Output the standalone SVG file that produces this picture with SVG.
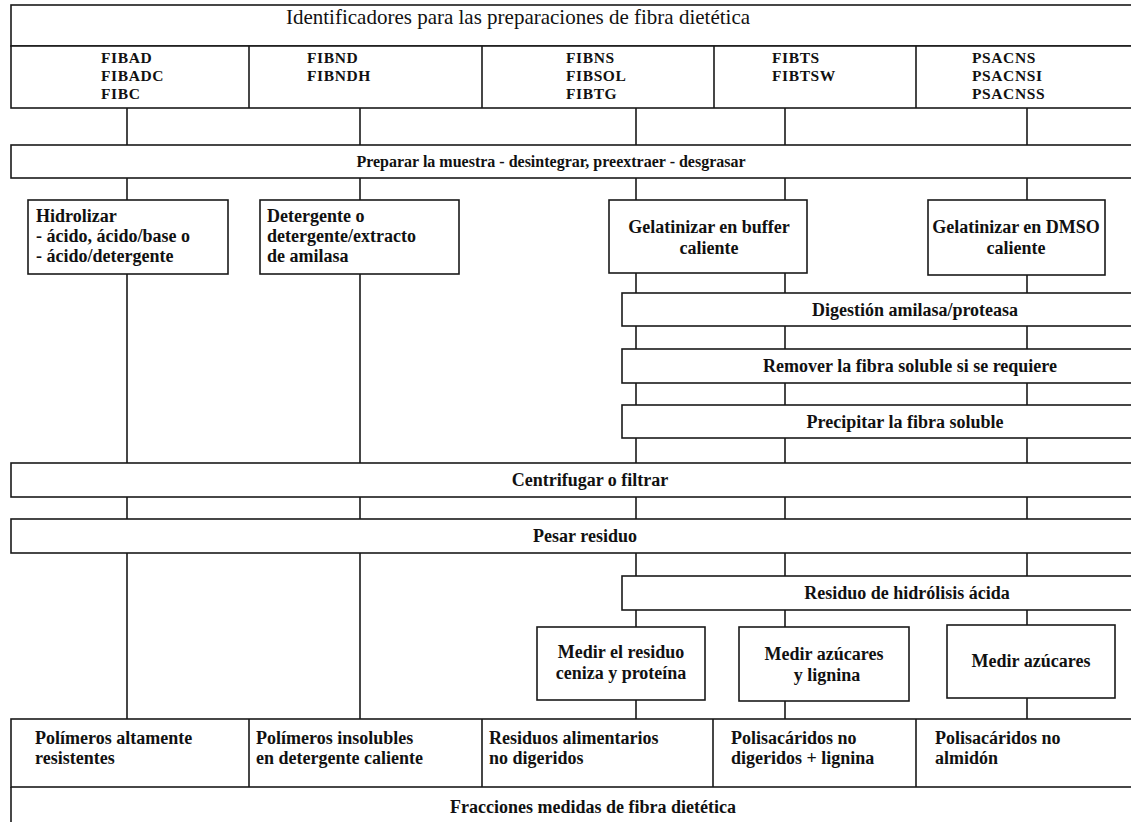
<svg xmlns="http://www.w3.org/2000/svg" width="1131" height="822" viewBox="0 0 1131 822">
<style>
.bx{fill:#fff;stroke:#1a1a1a;stroke-width:1.6}
.ln{stroke:#1a1a1a;stroke-width:1.6;fill:none}
.t{font-family:"Liberation Serif","Times New Roman",serif;font-size:18px;font-weight:bold;fill:#111}
.s{font-size:16px}
.id{font-size:15.5px;letter-spacing:0.6px}
.tt{font-family:"Liberation Serif","Times New Roman",serif;font-size:21px;fill:#111}
.c{text-anchor:middle}
</style>
<rect width="1131" height="822" fill="#fff"/>
<g id="connectors">
<path class="ln" d="M127 108V145M360 108V145M636 108V145M785 108V145M1027 108V145"/>
<path class="ln" d="M127 178V200M360 178V200M636 178V200M785 178V200M1027 178V200"/>
<path class="ln" d="M127 274V463M360 274V463M636 273V293M785 273V293M1027 275V293"/>
<path class="ln" d="M636 326V349M785 326V349M1027 326V349"/>
<path class="ln" d="M636 383V405M785 383V405M1027 383V405"/>
<path class="ln" d="M636 438V463M785 438V463M1027 438V463"/>
<path class="ln" d="M127 497V519M360 497V519M636 497V519M785 497V519M1027 497V519"/>
<path class="ln" d="M127 553V719M360 553V719M636 553V576M785 553V576M1027 553V576"/>
<path class="ln" d="M636 610V627M785 610V627M1027 610V625"/>
<path class="ln" d="M636 700V719M785 701V719M1027 698V719"/>
</g>
<g id="title"><rect class="bx" x="11" y="5" width="1135" height="41"/><text class="tt c" x="518" y="24">Identificadores para las preparaciones de fibra dietética</text></g>
<g id="ids">
<rect class="bx" x="11" y="46" width="1135" height="62"/>
<path class="ln" d="M249 46V108M482 46V108M714 46V108M916 46V108"/>
<text class="t id" x="101" y="63">FIBAD<tspan x="101" dy="18">FIBADC</tspan><tspan x="101" dy="18">FIBC</tspan></text>
<text class="t id" x="307" y="63">FIBND<tspan x="307" dy="18">FIBNDH</tspan></text>
<text class="t id" x="566" y="63">FIBNS<tspan x="566" dy="18">FIBSOL</tspan><tspan x="566" dy="18">FIBTG</tspan></text>
<text class="t id" x="772" y="63">FIBTS<tspan x="772" dy="18">FIBTSW</tspan></text>
<text class="t id" x="972" y="63">PSACNS<tspan x="972" dy="18">PSACNSI</tspan><tspan x="972" dy="18">PSACNSS</tspan></text>
</g>
<g id="preparar"><rect class="bx" x="11" y="145" width="1135" height="33"/><text class="t s c" x="551" y="167">Preparar la muestra - desintegrar, preextraer - desgrasar</text></g>
<g id="hidrolizar"><rect class="bx" x="28" y="200" width="200" height="74"/><text class="t" x="36" y="222">Hidrolizar<tspan x="36" dy="20">- ácido, ácido/base o</tspan><tspan x="36" dy="20">- ácido/detergente</tspan></text></g>
<g id="detergente"><rect class="bx" x="260" y="200" width="199" height="74"/><text class="t" x="267" y="222">Detergente o<tspan x="267" dy="20">detergente/extracto</tspan><tspan x="267" dy="20">de amilasa</tspan></text></g>
<g id="gel-buffer"><rect class="bx" x="609" y="200" width="198" height="73"/><text class="t c" x="709" y="233">Gelatinizar en buffer<tspan x="709" dy="21">caliente</tspan></text></g>
<g id="gel-dmso"><rect class="bx" x="928" y="200" width="177" height="75"/><text class="t c" x="1016" y="233">Gelatinizar en DMSO<tspan x="1016" dy="21">caliente</tspan></text></g>
<g id="digestion"><rect class="bx" x="622" y="293" width="524" height="33"/><text class="t c" x="915" y="316">Digestión amilasa/proteasa</text></g>
<g id="remover"><rect class="bx" x="622" y="349" width="524" height="34"/><text class="t c" x="910" y="372">Remover la fibra soluble si se requiere</text></g>
<g id="precipitar"><rect class="bx" x="622" y="405" width="524" height="33"/><text class="t c" x="905" y="428">Precipitar la fibra soluble</text></g>
<g id="centrifugar"><rect class="bx" x="11" y="463" width="1135" height="34"/><text class="t c" x="590" y="486">Centrifugar o filtrar</text></g>
<g id="pesar"><rect class="bx" x="11" y="519" width="1135" height="34"/><text class="t c" x="585" y="542">Pesar residuo</text></g>
<g id="residuo-hidrolisis"><rect class="bx" x="622" y="576" width="524" height="34"/><text class="t c" x="907" y="599">Residuo de hidrólisis ácida</text></g>
<g id="medir-residuo"><rect class="bx" x="537" y="627" width="168" height="73"/><text class="t c" x="621" y="658">Medir el residuo<tspan x="621" dy="21">ceniza y proteína</tspan></text></g>
<g id="medir-azucares-lignina"><rect class="bx" x="739" y="627" width="170" height="74"/><text class="t c" x="824" y="660">Medir azúcares<tspan x="827" dy="21">y lignina</tspan></text></g>
<g id="medir-azucares"><rect class="bx" x="947" y="625" width="168" height="73"/><text class="t c" x="1031" y="667">Medir azúcares</text></g>
<g id="fracciones">
<rect class="bx" x="11" y="719" width="1135" height="68"/>
<path class="ln" d="M249 719V787M482 719V787M713 719V787M916 719V787"/>
<text class="t" x="35" y="744">Polímeros altamente<tspan x="35" dy="20">resistentes</tspan></text>
<text class="t" x="256" y="744">Polímeros insolubles<tspan x="256" dy="20">en detergente caliente</tspan></text>
<text class="t" x="489" y="744">Residuos alimentarios<tspan x="489" dy="20">no digeridos</tspan></text>
<text class="t" x="731" y="744">Polisacáridos no<tspan x="731" dy="20">digeridos + lignina</tspan></text>
<text class="t" x="935" y="744">Polisacáridos no<tspan x="935" dy="20">almidón</tspan></text>
<path class="ln" d="M11 787V822"/>
<text class="t c" x="593" y="813">Fracciones medidas de fibra dietética</text>
</g>
</svg>
